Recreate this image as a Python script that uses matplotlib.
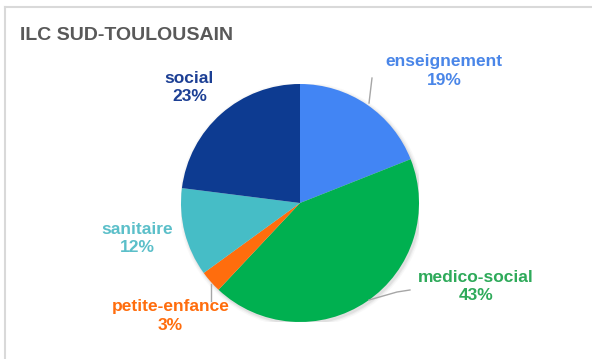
import matplotlib
matplotlib.use("Agg")
import matplotlib.pyplot as plt
from matplotlib.lines import Line2D
from matplotlib.patches import Circle

# share of each sector, clockwise from 12 o'clock
sectors = ["enseignement", "medico-social", "petite-enfance", "sanitaire", "social"]
shares = [19, 43, 3, 12, 23]
colors = ["#4285f4", "#00b050", "#ff6d0d", "#46bdc6", "#0d3b91"]
text_colors = ["#4a86e8", "#2eaa5a", "#ff6d0d", "#5bbfc9", "#1c3f94"]

# label anchor points, in pie units (radius = 1)
label_xy = [(1.21, 1.11), (1.48, -0.70), (-1.09, -0.95), (-1.37, -0.30), (-0.93, 0.97)]
leaders = {
    "enseignement": [(0.605, 1.05), (0.58, 0.84)],
    "medico-social": [(0.924, -0.731), (0.815, -0.748), (0.58, -0.815)],
    "petite-enfance": [(-0.748, -0.82), (-0.748, -0.68)],
}

W, H = 592, 359
fig = plt.figure(figsize=(W / 100, H / 100), dpi=100)
plt.rcParams["font.family"] = ["Liberation Sans", "DejaVu Sans"]

# light frame on the top and left edges
fig.add_artist(Line2D([5 / W, 1], [1 - 7 / H, 1 - 7 / H], transform=fig.transFigure,
                      color="#d9d9d9", lw=1.5))
fig.add_artist(Line2D([5 / W, 5 / W], [0, 1 - 7 / H], transform=fig.transFigure,
                      color="#d9d9d9", lw=1.5))

fig.text(20 / W, 1 - 35 / H, "ILC SUD-TOULOUSAIN", fontsize=14, fontweight="bold",
         color="#595959", va="center", ha="left")

cx, cy, r = 300, 203, 119
ax = fig.add_axes([(cx - r) / W, (H - cy - r) / H, 2 * r / W, 2 * r / H])
ax.axis("off")

# soft shadow under the pie
for k, a in [(1.03, 0.05), (1.018, 0.08), (1.008, 0.12)]:
    ax.add_patch(Circle((0.012, -0.015), k, color="#808080", alpha=a, lw=0, zorder=0))

ax.pie(shares, colors=colors, startangle=90, counterclock=False, radius=1,
       wedgeprops=dict(linewidth=0))
ax.set_xlim(-1, 1)
ax.set_ylim(-1, 1)
ax.set_aspect("equal")

for name, val, (x, y), tc in zip(sectors, shares, label_xy, text_colors):
    ax.text(x, y, f"{name}\n{val}%", ha="center", va="center", fontsize=12.5,
            fontweight="bold", color=tc, linespacing=1.3, clip_on=False)

for pts in leaders.values():
    xs, ys = zip(*pts)
    ax.plot(xs, ys, color="#a6a6a6", lw=1, clip_on=False)

fig.savefig("out.png", dpi=100)
